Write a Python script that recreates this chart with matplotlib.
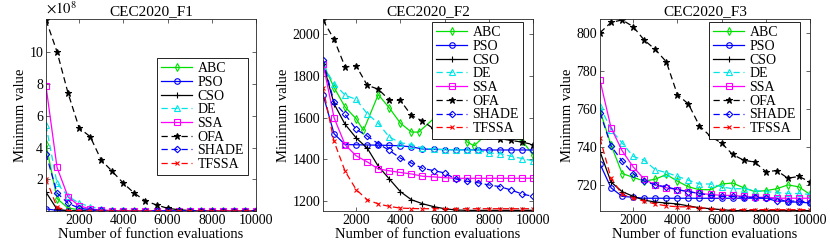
import matplotlib
matplotlib.use("Agg")
import matplotlib.pyplot as plt
import numpy as np

plt.rcParams['font.family'] = ['Liberation Serif', 'DejaVu Serif']
plt.rcParams['mathtext.fontset'] = 'stix'

# ---------------- data ----------------
nfe = [500, 1000, 1500, 2000, 2500, 3000, 3500, 4000, 4500, 5000,
       5500, 6000, 6500, 7000, 7500, 8000, 8500, 9000, 9500, 10000]
algorithms = ['ABC', 'PSO', 'CSO', 'DE', 'SSA', 'OFA', 'SHADE', 'TFSSA']
titles = ['CEC2020_F1', 'CEC2020_F2', 'CEC2020_F3']

# F1 values in units of 1e8
f1_ABC = [4.2, 0.8, 0.2, 0.1, 0.06, 0.04, 0.03, 0.03, 0.02, 0.02, 0.02, 0.02, 0.02, 0.02, 0.02, 0.02, 0.02, 0.02, 0.02, 0.02]
f1_PSO = [0.15, 0.06, 0.04, 0.03, 0.03, 0.03, 0.03, 0.03, 0.03, 0.03, 0.03, 0.03, 0.03, 0.03, 0.03, 0.03, 0.03, 0.03, 0.03, 0.03]
f1_CSO = [1.2, 0.12, 0.04, 0.03, 0.02, 0.02, 0.02, 0.02, 0.02, 0.02, 0.02, 0.02, 0.02, 0.02, 0.02, 0.02, 0.02, 0.02, 0.02, 0.02]
f1_DE = [5.4, 1.75, 0.95, 0.5, 0.3, 0.15, 0.1, 0.07, 0.05, 0.04, 0.03, 0.03, 0.03, 0.03, 0.03, 0.03, 0.03, 0.03, 0.03, 0.03]
f1_SSA = [7.85, 2.75, 0.9, 0.35, 0.15, 0.08, 0.05, 0.04, 0.03, 0.03, 0.03, 0.03, 0.03, 0.03, 0.03, 0.03, 0.03, 0.03, 0.03, 0.03]
f1_OFA = [12.0, 10.0, 7.4, 5.23, 4.68, 3.21, 2.5, 1.76, 1.13, 0.65, 0.4, 0.19, 0.1, 0.05, 0.03, 0.03, 0.03, 0.03, 0.03, 0.03]
f1_SHADE = [3.6, 1.15, 0.5, 0.2, 0.1, 0.06, 0.04, 0.03, 0.03, 0.03, 0.03, 0.03, 0.03, 0.03, 0.03, 0.03, 0.03, 0.03, 0.03, 0.03]
f1_TFSSA = [2.05, 0.25, 0.05, 0.03, 0.02, 0.02, 0.02, 0.02, 0.02, 0.02, 0.02, 0.02, 0.02, 0.02, 0.02, 0.02, 0.02, 0.02, 0.02, 0.02]

# F2
f2_ABC_x = [500, 1000, 1500, 2000, 2330, 3000, 3500, 4000, 4500, 4830,
            5500, 6000, 6500, 7000, 7330, 8000, 8500, 9000, 9500, 10000]
f2_ABC = [1860, 1745, 1651, 1595, 1539, 1711, 1647, 1574, 1531, 1531, 1595, 1620, 1560, 1485, 1465, 1530, 1520, 1510, 1490, 1422]
f2_PSO = [1711, 1523, 1471, 1470, 1469, 1468, 1467, 1465, 1460, 1450, 1448, 1447, 1446, 1446, 1445, 1445, 1445, 1445, 1445, 1445]
f2_CSO = [1860, 1667, 1568, 1503, 1454, 1367, 1306, 1245, 1206, 1187, 1173, 1163, 1157, 1155, 1155, 1155, 1155, 1155, 1155, 1155]
f2_DE = [1850, 1764, 1708, 1688, 1619, 1573, 1507, 1480, 1471, 1454, 1449, 1447, 1446, 1445, 1444, 1430, 1428, 1415, 1404, 1393]
f2_SSA = [1860, 1600, 1470, 1417, 1388, 1354, 1345, 1337, 1330, 1319, 1316, 1312, 1309, 1309, 1309, 1309, 1309, 1309, 1309, 1309]
f2_OFA = [2069, 1976, 1844, 1849, 1756, 1737, 1685, 1683, 1611, 1584, 1547, 1540, 1530, 1520, 1515, 1510, 1499, 1491, 1483, 1471]
f2_SHADE = [1875, 1675, 1616, 1544, 1512, 1475, 1443, 1406, 1382, 1357, 1346, 1335, 1306, 1295, 1288, 1277, 1269, 1253, 1234, 1222]
f2_TFSSA = [1745, 1486, 1343, 1255, 1206, 1186, 1174, 1166, 1164, 1163, 1163, 1163, 1163, 1163, 1163, 1163, 1163, 1163, 1163, 1163]

# F3
f3_ABC = [759, 741, 726, 724, 722, 723, 725.5, 722, 719, 717.5, 717.5, 720.5, 721, 718.5, 716.5, 717, 718, 720, 719, 715]
f3_PSO = [731, 718.5, 714, 713.5, 713, 713, 713, 713, 713, 713, 713, 713, 713, 713, 713, 713, 713, 711, 711, 710.5]
f3_CSO = [737.5, 721.5, 716.5, 714, 712, 711, 710.5, 710, 709, 708, 707.5, 707, 706.5, 706.5, 706.5, 706.5, 706.5, 706.5, 706.5, 706.5]
f3_DE = [761.5, 749, 742, 735, 733, 728, 726.5, 724.5, 722.5, 720.5, 720.5, 719, 718, 718, 717, 716.5, 716, 715.5, 715.5, 715]
f3_SSA = [775, 750, 738, 729.5, 723, 720, 718.5, 717.5, 716.5, 715.5, 715, 714.5, 714.5, 714, 713.5, 713.5, 713, 713, 713, 713]
f3_OFA = [800, 805.4, 806.7, 803.2, 796.1, 791.2, 784.7, 767.5, 762.5, 751, 745.5, 742, 736, 733, 732, 727, 727.5, 723.5, 724.5, 721.5]
f3_SHADE = [758, 740.5, 732.5, 726, 722, 720, 719, 717.5, 716.5, 715.5, 714.5, 714, 714, 713.5, 713.5, 713, 711.5, 711.5, 711.5, 711]
f3_TFSSA = [744.5, 723.5, 715, 713, 711.5, 710, 709, 708.5, 708.5, 708, 707.5, 707, 707, 707, 707, 707, 707, 707, 707, 707]

# ---------------- styles ----------------
styles = {
    'ABC':   dict(color='#00e000', ls='-',  marker='d', mfc='none'),
    'PSO':   dict(color='#0000ff', ls='-',  marker='o', mfc='none'),
    'CSO':   dict(color='black',   ls='-',  marker='+', mfc='none'),
    'DE':    dict(color='#00e5e5', ls='--', marker='^', mfc='none'),
    'SSA':   dict(color='#ff00ff', ls='-',  marker='s', mfc='none'),
    'OFA':   dict(color='black',   ls='--', marker='*', mfc='black'),
    'SHADE': dict(color='#0000ff', ls='--', marker='D', mfc='none'),
    'TFSSA': dict(color='#ff0000', ls='--', marker='x', mfc='none'),
}
msizes = {'ABC': 4, 'PSO': 4, 'CSO': 4, 'DE': 4, 'SSA': 4, 'OFA': 5, 'SHADE': 3.3, 'TFSSA': 3.5}

panels = [
    dict(data={'ABC': (nfe, f1_ABC), 'PSO': (nfe, f1_PSO), 'CSO': (nfe, f1_CSO), 'DE': (nfe, f1_DE),
               'SSA': (nfe, f1_SSA), 'OFA': (nfe, f1_OFA), 'SHADE': (nfe, f1_SHADE), 'TFSSA': (nfe, f1_TFSSA)},
         ylim=(0.02, 12.06), yticks=[2, 4, 6, 8, 10], leg=(0.962, 0.797)),
    dict(data={'ABC': (f2_ABC_x, f2_ABC), 'PSO': (nfe, f2_PSO), 'CSO': (nfe, f2_CSO), 'DE': (nfe, f2_DE),
               'SSA': (nfe, f2_SSA), 'OFA': (nfe, f2_OFA), 'SHADE': (nfe, f2_SHADE), 'TFSSA': (nfe, f2_TFSSA)},
         ylim=(1152, 2074), yticks=[1200, 1400, 1600, 1800, 2000], leg=(0.952, 0.984)),
    dict(data={'ABC': (nfe, f3_ABC), 'PSO': (nfe, f3_PSO), 'CSO': (nfe, f3_CSO), 'DE': (nfe, f3_DE),
               'SSA': (nfe, f3_SSA), 'OFA': (nfe, f3_OFA), 'SHADE': (nfe, f3_SHADE), 'TFSSA': (nfe, f3_TFSSA)},
         ylim=(706.3, 807.2), yticks=[720, 740, 760, 780, 800], leg=(0.952, 0.984)),
]

W, H = 830, 248
fig = plt.figure(figsize=(W / 100, H / 100), dpi=100)
lefts = [46, 323, 600]
fs_tick = 10
fs_lab = 10.5
fs_title = 11
fs_leg = 10
for i, p in enumerate(panels):
    ax = fig.add_axes([lefts[i] / W, (H - 211) / H, 210 / W, 192 / H])
    for name in algorithms:
        xs, ys = p['data'][name]
        st = styles[name]
        ax.plot(xs, ys, color=st['color'], ls=st['ls'], marker=st['marker'],
                mfc=st['mfc'], mec=st['color'], ms=msizes[name], mew=0.8, lw=0.9,
                label=name, dashes=(5, 3) if st['ls'] == '--' else (None, None))
    ax.set_xlim(500, 10000)
    ax.set_ylim(*p['ylim'])
    ax.set_xticks([2000, 4000, 6000, 8000, 10000])
    ax.set_yticks(p['yticks'])
    ax.tick_params(direction='in', top=True, right=True, labelsize=fs_tick, length=3, width=0.5,
                   colors='#262626', labelcolor='black', pad=2)
    for s in ax.spines.values():
        s.set_linewidth(0.6)
        s.set_color('#262626')
    ax.set_title(titles[i], fontsize=fs_title, pad=3)
    ax.set_xlabel('Number of function evaluations', fontsize=fs_lab, labelpad=1)
    ax.set_ylabel('Minimum value', fontsize=fs_lab, labelpad=2)
    leg = ax.legend(loc='upper right', bbox_to_anchor=p['leg'], fontsize=fs_leg,
                    fancybox=False, edgecolor='black', framealpha=1, borderpad=0.3,
                    labelspacing=0.05, handlelength=2.2, handletextpad=0.4, borderaxespad=0)
    leg.get_frame().set_linewidth(0.6)
    if i == 0:
        ax.text(0.0, 1.01, r'$\times10^{8}$', transform=ax.transAxes, fontsize=fs_tick + 0.5,
                ha='left', va='bottom')

fig.savefig('out.png', dpi=100)
